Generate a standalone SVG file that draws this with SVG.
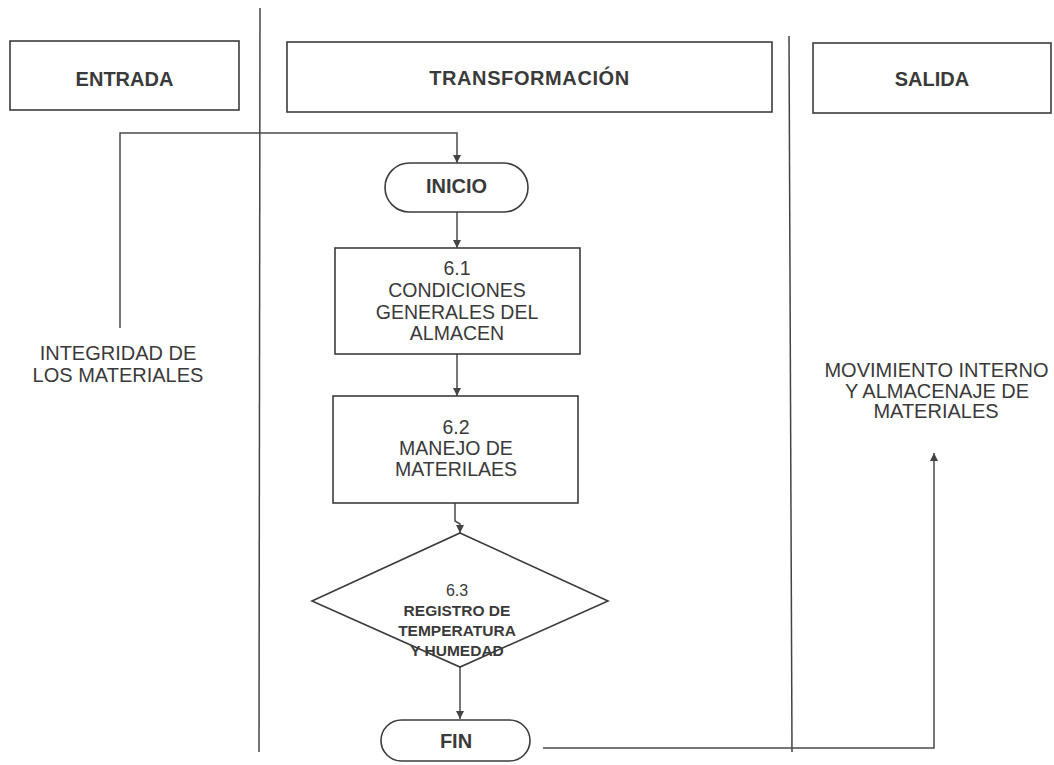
<svg xmlns="http://www.w3.org/2000/svg" width="1054" height="765" viewBox="0 0 1054 765">
<defs>
<marker id="ah" viewBox="0 0 10 10" refX="10" refY="5" markerWidth="8" markerHeight="8" markerUnits="userSpaceOnUse" orient="auto">
<path d="M0,0 L10,5 L0,10 z" fill="#444"/>
</marker>
<style>
.box{fill:#fff;stroke:#3c3c3c;stroke-width:1.6}
.lane{stroke:#444;stroke-width:1.5;fill:none}
.con{stroke:#4a4a4a;stroke-width:1.5;fill:none}
.arr{marker-end:url(#ah)}
.hd{font-family:"Liberation Sans",Arial,sans-serif;font-weight:bold;font-size:20px;fill:#3a3a3a;text-anchor:middle}
.tx{font-family:"Liberation Sans",Arial,sans-serif;font-size:19.5px;fill:#3a3a3a;text-anchor:middle}
.sd{font-family:"Liberation Sans",Arial,sans-serif;font-size:20px;fill:#3a3a3a;text-anchor:middle}
.dm{font-family:"Liberation Sans",Arial,sans-serif;font-weight:bold;font-size:15.5px;fill:#3a3a3a;text-anchor:middle}
.dn{font-family:"Liberation Sans",Arial,sans-serif;font-size:16px;fill:#3a3a3a;text-anchor:middle}
</style>
</defs>
<rect width="1054" height="765" fill="#fff"/>
<g id="lanes">
<line class="lane" x1="260" y1="8" x2="259" y2="752"/>
<line class="lane" x1="789" y1="36" x2="792" y2="752"/>
</g>
<g id="entrada">
<rect class="box" x="10" y="41" width="229" height="69"/>
<text class="hd" x="124.5" y="86">ENTRADA</text>
</g>
<g id="transformacion">
<rect class="box" x="287" y="42" width="485" height="70"/>
<text class="hd" x="529.5" y="85" letter-spacing="0.6">TRANSFORMACIÓN</text>
</g>
<g id="salida">
<rect class="box" x="813" y="43" width="238" height="70"/>
<text class="hd" x="932" y="86">SALIDA</text>
</g>
<g id="connectors">
<path class="con arr" d="M120,328 V133 H457 V163"/>
<path class="con arr" d="M457,212 V248"/>
<path class="con arr" d="M457,354 V396"/>
<path class="con arr" d="M455,503 V521 L460,524 V533"/>
<path class="con arr" d="M460,667 V719"/>
<path class="con arr" d="M543,748 H934 V453"/>
</g>
<g id="integridad">
<text class="sd" x="118" y="360">INTEGRIDAD DE</text>
<text class="sd" x="118" y="382">LOS MATERIALES</text>
</g>
<g id="inicio">
<rect class="box" x="385" y="163" width="143" height="49" rx="24.5"/>
<text class="hd" x="456.5" y="193">INICIO</text>
</g>
<g id="n61">
<rect class="box" x="335" y="248" width="245" height="106"/>
<text class="tx" x="457" y="275">6.1</text>
<text class="tx" x="457" y="297">CONDICIONES</text>
<text class="tx" x="457" y="318.5">GENERALES DEL</text>
<text class="tx" x="457" y="340">ALMACEN</text>
</g>
<g id="n62">
<rect class="box" x="333" y="396" width="245" height="107"/>
<text class="tx" x="456" y="434">6.2</text>
<text class="tx" x="456" y="455">MANEJO DE</text>
<text class="tx" x="456" y="476">MATERILAES</text>
</g>
<g id="n63">
<polygon class="box" points="460,533 608,601 460,667 312,601"/>
<text class="dn" x="457" y="596">6.3</text>
<text class="dm" x="457" y="616">REGISTRO DE</text>
<text class="dm" x="457" y="636">TEMPERATURA</text>
<text class="dm" x="457" y="656">Y HUMEDAD</text>
</g>
<g id="fin">
<rect class="box" x="381" y="720" width="149" height="41" rx="20.5"/>
<text class="hd" x="456" y="748">FIN</text>
</g>
<g id="movimiento">
<text class="sd" x="936.5" y="377">MOVIMIENTO INTERNO</text>
<text class="sd" x="937" y="397.5">Y ALMACENAJE DE</text>
<text class="sd" x="936" y="418">MATERIALES</text>
</g>
</svg>
